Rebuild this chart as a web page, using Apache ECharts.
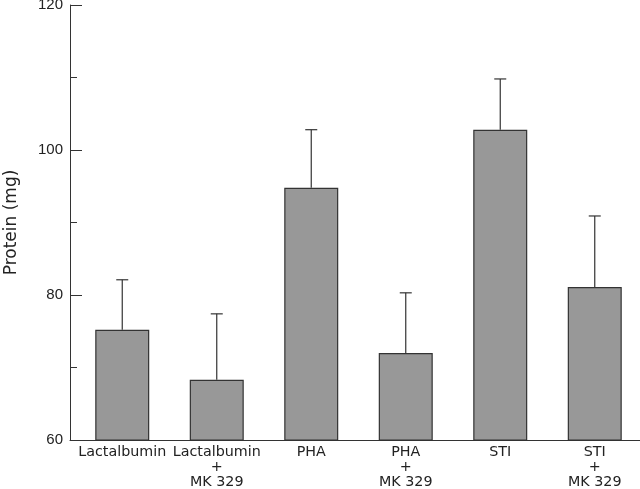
<!DOCTYPE html>
<html>
<head>
<meta charset="utf-8">
<script src="https://cdn.jsdelivr.net/npm/echarts@6/dist/echarts.min.js"></script>
<style>html,body{margin:0;padding:0;background:#fff}#c{width:640px;height:489px}</style>
</head>
<body>
<div id="c"></div>
<script>
const categories = ["Lactalbumin", "Lactalbumin\n+\nMK 329", "PHA", "PHA\n+\nMK 329", "STI", "STI\n+\nMK 329"];
const means = [75.2, 68.3, 94.8, 72.0, 102.8, 81.1];
const errorTops = [82.1, 77.4, 102.8, 80.3, 109.8, 90.9];
const yTicks = [60, 80, 100, 120];

const chart = echarts.init(document.getElementById('c'), null, {renderer: 'canvas'});
const font = 'Arial, "Liberation Sans", Helvetica, sans-serif';
const wide = '"DejaVu Sans", Arial, sans-serif';
const ink = '#333';

chart.setOption({
  animation: false,
  backgroundColor: '#fff',
  grid: [
    {left: 70, right: 0, top: 5, bottom: 49, containLabel: false, outerBoundsMode: 'none'},
    {left: 75, right: -2, top: 5, bottom: 49, containLabel: false, outerBoundsMode: 'none'}
  ],
  xAxis: [
    {gridIndex: 0, type: 'value', min: 0, max: 1,
     axisLine: {show: true, lineStyle: {color: ink, width: 1}},
     axisTick: {show: false}, axisLabel: {show: false}, splitLine: {show: false}},
    {gridIndex: 1, type: 'category', data: categories,
     axisLine: {show: false}, axisTick: {show: false}, splitLine: {show: false},
     axisLabel: {interval: 0, margin: 5, fontSize: 14.3, lineHeight: 15, color: '#222', fontFamily: wide}}
  ],
  yAxis: [
    {gridIndex: 0, type: 'value', min: yTicks[0], max: yTicks[yTicks.length - 1], interval: 20,
     name: 'Protein (mg)', nameLocation: 'middle', nameGap: 50,
     nameTextStyle: {fontSize: 17, color: '#222', fontFamily: wide},
     axisLine: {show: true, lineStyle: {color: ink, width: 1}},
     axisTick: {show: true, inside: true, length: 12, lineStyle: {color: ink}},
     minorTick: {show: true, splitNumber: 2, length: 7, lineStyle: {color: ink}},
     splitLine: {show: false},
     axisLabel: {margin: 7, fontSize: 15, color: '#222', fontFamily: font}},
    {gridIndex: 1, type: 'value', min: yTicks[0], max: yTicks[yTicks.length - 1], show: false}
  ],
  series: [
    {type: 'bar', xAxisIndex: 1, yAxisIndex: 1, data: means, barWidth: 54,
     itemStyle: {color: '#989898', borderColor: ink, borderWidth: 1.2}, z: 2},
    {type: 'custom', xAxisIndex: 1, yAxisIndex: 1, z: 3,
     data: means.map((m, i) => [i, m, errorTops[i]]),
     renderItem: function (params, api) {
       const base = api.coord([api.value(0), api.value(1)]);
       const top = api.coord([api.value(0), api.value(2)]);
       const cap = 6;
       const st = {stroke: ink, lineWidth: 1.2};
       return {type: 'group', children: [
         {type: 'line', shape: {x1: base[0], y1: base[1], x2: top[0], y2: top[1]}, style: st},
         {type: 'line', shape: {x1: top[0] - cap, y1: top[1], x2: top[0] + cap, y2: top[1]}, style: st}
       ]};
     }}
  ]
});
</script>
</body>
</html>
